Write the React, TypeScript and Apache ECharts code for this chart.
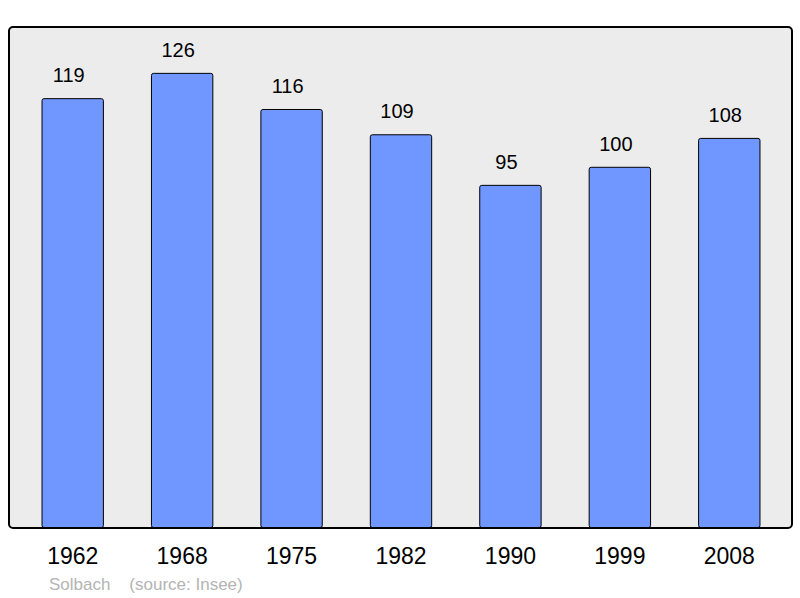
import React, { useEffect, useRef } from "react";
import * as echarts from "echarts";

const years = ["1962", "1968", "1975", "1982", "1990", "1999", "2008"];
const population = [119, 126, 116, 109, 95, 100, 108];
const credit = "Solbach    (source: Insee)";

export default function App() {
  const ref = useRef<HTMLDivElement>(null);
  useEffect(() => {
    if (!ref.current) return;
    const chart = echarts.init(ref.current, null, { renderer: "svg" });
    chart.setOption({
      animation: false,
      backgroundColor: "#ffffff",
      textStyle: { fontFamily: "Liberation Sans" },
      grid: { left: 18, top: 27, width: 766, height: 501 },
      xAxis: {
        type: "category",
        data: years,
        axisLine: { show: false },
        axisTick: { show: false },
        axisLabel: { color: "#000", fontSize: 23, margin: 16, fontFamily: "Liberation Sans" },
      },
      yAxis: {
        type: "value",
        min: 0,
        max: 138.7,
        show: false,
        splitLine: { show: false },
      },
      graphic: [
        {
          type: "rect",
          z: -10,
          silent: true,
          shape: { x: 9, y: 27, width: 783, height: 501, r: 4 },
          style: { fill: "#ececec", stroke: "none" },
        },
        {
          type: "rect",
          z: 100,
          silent: true,
          shape: { x: 9, y: 27, width: 783, height: 501, r: 4 },
          style: { fill: "none", stroke: "#000", lineWidth: 2 },
        },
        {
          type: "text",
          x: 49,
          y: 584,
          style: {
            text: credit,
            fill: "#b4b4b4",
            fontSize: 17,
            fontFamily: "Liberation Sans",
            verticalAlign: "middle",
          },
        },
      ],
      series: [
        {
          type: "bar",
          data: population,
          barWidth: "57%",
          itemStyle: {
            color: "#7096ff",
            borderColor: "#000",
            borderWidth: 1,
            borderRadius: 2,
          },
          label: {
            show: true,
            position: "top",
            distance: 13,
            offset: [-4, 0],
            color: "#000",
            fontSize: 20,
            fontFamily: "Liberation Sans",
          },
        },
      ],
    });
    return () => chart.dispose();
  }, []);
  return (
    <div
      ref={ref}
      style={{ position: "fixed", left: 0, top: 0, width: 800, height: 598 }}
    />
  );
}
